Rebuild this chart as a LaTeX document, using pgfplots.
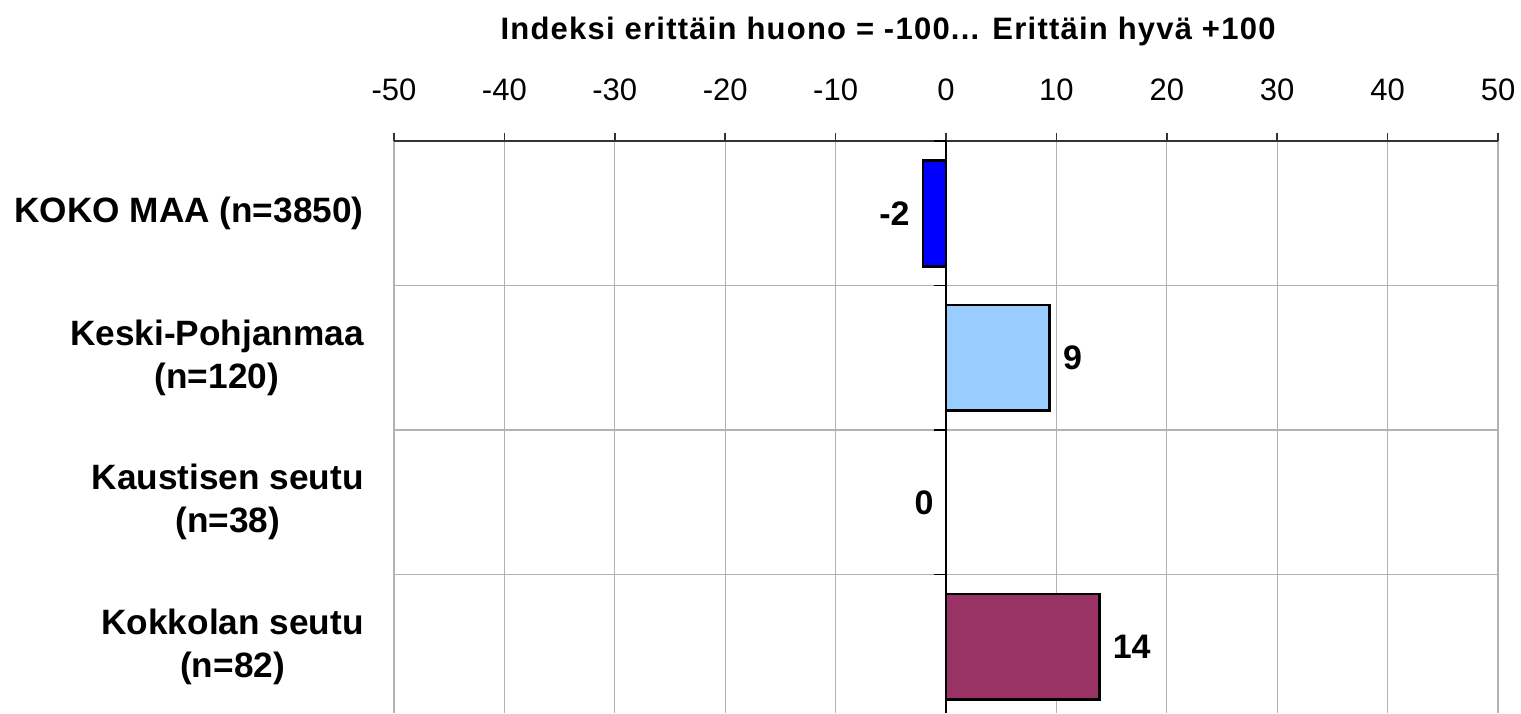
\documentclass[border=0pt]{standalone}
\usepackage{fontspec}
\setmainfont{Liberation Sans}
\newfontfamily\titlefont[LetterSpace=4]{Liberation Sans}
\usepackage{pgfplots}
\pgfplotsset{compat=1.18}

\definecolor{kblue}{HTML}{0000FF}
\definecolor{klight}{HTML}{99CCFF}
\definecolor{kpurple}{HTML}{993366}

\begin{document}
\begin{tikzpicture}
\useasboundingbox (-197pt,0) rectangle (563.5pt,356.5pt);
\begin{axis}[
  at={(0,0)}, anchor=south west,
  scale only axis, width=552pt, height=286pt,
  xmin=-50, xmax=50,
  ymin=-0.5, ymax=3.458, y dir=reverse,
  clip=false,
  axis x line*=top, axis y line*=left,
  y axis line style={draw=none},
  x axis line style={black!80, line width=0.75pt},
  xtick={-50,-40,...,50},
  xticklabels={-50,-40,-30,-20,-10,0,10,20,30,40,50},
  xtick style={black!80, line width=0.75pt},
  tick align=outside, major tick length=4pt,
  xticklabel style={anchor=base, yshift=16pt, font=\fontsize{15.5}{18}\selectfont},
  xmajorgrids, grid style={black!30, line width=0.6pt},
  ytick={0,1,2,3},
  yticklabels={{KOKO MAA (n=3850)},{Keski-Pohjanmaa\\(n=120)},{Kaustisen seutu\\(n=38)},{Kokkolan seutu\\(n=82)}},
  yticklabel style={align=center, inner sep=0pt, xshift=-11pt,
    font=\bfseries\fontsize{17.6}{21.5}\selectfont},
  ytick style={draw=none},
  minor ytick={-0.5,0.5,1.5,2.5},
  yminorgrids, minor grid style={black!30, line width=0.6pt},
  minor y tick style={draw=none},
  xbar, bar width=0.733, bar shift=0pt,
  point meta=explicit symbolic,
  nodes near coords,
  every node near coord/.append style={font=\bfseries\fontsize{17}{20}\selectfont, inner sep=0pt},
]
\addplot[fill=kblue, draw=black, line width=1.3pt,
  nodes near coords align={anchor=east, xshift=-6pt}] coordinates {(-2.1,0) [-2]};
\addplot[fill=klight, draw=black, line width=1.3pt,
  nodes near coords align={anchor=west, xshift=6pt}] coordinates {(9.4,1) [9]};
\addplot[fill=none, draw=none,
  nodes near coords align={anchor=east, xshift=-6pt}] coordinates {(0,2) [0]};
\addplot[fill=kpurple, draw=black, line width=1.3pt,
  nodes near coords align={anchor=west, xshift=6pt}] coordinates {(13.9,3) [14]};
% zero axis with ticks on category borders
\draw[black, line width=0.75pt] (axis cs:0,-0.5) -- (axis cs:0,3.458);
\pgfplotsinvokeforeach{-0.5,0.5,1.5,2.5}{
  \draw[black, line width=0.75pt] (axis cs:0,#1) -- ([xshift=-6pt]axis cs:0,#1);
}
\node[anchor=base, font=\titlefont\bfseries\fontsize{15.5}{18}\selectfont]
  at ([yshift=50.5pt]rel axis cs:0.4475,1) {Indeksi erittäin huono = -100... Erittäin hyvä +100};
\end{axis}
\end{tikzpicture}
\end{document}
